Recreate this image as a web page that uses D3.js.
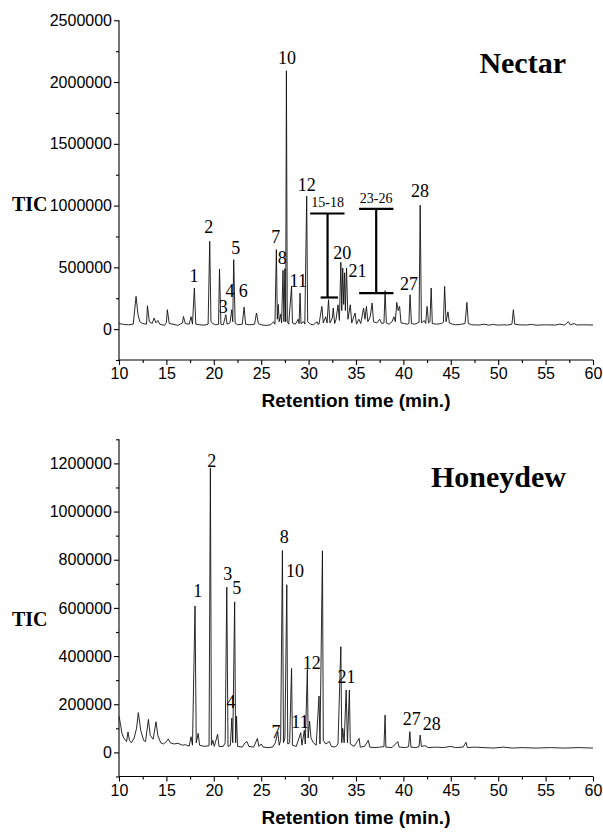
<!DOCTYPE html>
<html><head><meta charset="utf-8">
<script src="https://cdn.jsdelivr.net/npm/d3@7"></script>
<style>
html,body{margin:0;padding:0;background:#fff;}
svg{display:block;}
.tick text{font-family:Arial,"Liberation Sans",sans-serif;font-size:16px;fill:#000;}
</style></head>
<body><svg id="c" width="603" height="833"></svg>
<script>
// ---------- DATA ----------
const xTicks = [10,15,20,25,30,35,40,45,50,55,60];
const nectarYTicks = [0,500000,1000000,1500000,2000000,2500000];
const honeyYTicks = [0,200000,400000,600000,800000,1000000,1200000];

// Nectar trace: retention time (min) and TIC
const nectarRT = [10.0,10.5,11.0,11.5,11.8,12.0,12.2,12.5,12.9,13.0,13.2,13.5,13.7,13.9,14.1,14.3,14.8,15.0,15.1,15.3,15.7,16.2,16.7,16.8,17.0,17.4,17.6,17.75,17.95,18.1,18.5,19.0,19.4,19.57,19.7,19.9,20.2,20.5,20.6,20.75,21.0,21.27,21.4,21.7,21.9,22.0,22.1,22.25,22.5,23.0,23.2,23.35,23.8,24.3,24.5,24.7,25.0,25.5,26.0,26.3,26.45,26.6,26.7,26.8,26.9,27.05,27.15,27.3,27.4,27.5,27.58,27.66,27.75,27.9,28.2,28.3,28.6,28.9,29.0,29.1,29.2,29.5,29.6,29.8,29.9,30.2,30.5,30.9,31.0,31.1,31.4,31.55,31.8,31.95,32.1,32.25,32.5,32.6,32.75,32.9,33.1,33.25,33.4,33.5,33.6,33.7,33.8,33.88,34.0,34.15,34.4,34.55,34.9,35.05,35.3,35.5,35.8,35.95,36.1,36.25,36.5,36.7,36.85,37.2,37.5,37.7,37.95,38.07,38.2,38.5,38.8,39.0,39.15,39.3,39.45,39.6,39.75,40.1,40.4,40.58,40.7,40.85,41.2,41.5,41.65,41.77,41.9,42.2,42.35,42.5,42.65,42.8,42.93,43.05,43.5,44.0,44.22,44.35,44.5,44.7,44.85,45.2,45.5,46.0,46.5,46.7,46.85,47.2,48.0,48.5,49.0,49.5,50.0,50.5,51.0,51.45,51.6,51.75,52.2,53.0,53.5,54.0,55.0,56.0,56.5,57.0,57.4,57.6,58.0,58.3,59.0,60.0];
const nectarTIC = [45000,38000,35000,40000,265000,120000,60000,45000,40000,189000,60000,45000,89000,50000,70000,40000,30000,55000,157000,45000,40000,30000,50000,102000,45000,40000,100000,40000,333000,40000,35000,32000,40000,711000,60000,45000,35000,40000,487000,40000,35000,116000,40000,50000,157000,60000,562000,50000,35000,40000,178000,40000,35000,40000,130000,45000,35000,30000,35000,60000,40000,644000,80000,200000,60000,120000,50000,476000,60000,490000,60000,2091000,60000,40000,346000,50000,40000,80000,45000,292000,45000,60000,40000,1076000,60000,40000,35000,60000,40000,40000,184000,50000,100000,50000,238000,50000,90000,170000,45000,80000,197000,70000,541000,150000,495000,200000,456000,150000,495000,80000,197000,50000,130000,40000,80000,45000,170000,80000,184000,60000,100000,211000,60000,50000,80000,45000,50000,311000,50000,40000,60000,100000,60000,216000,150000,184000,50000,45000,40000,45000,278000,45000,40000,50000,55000,1003000,50000,70000,45000,184000,50000,60000,333000,45000,40000,45000,55000,346000,60000,140000,50000,40000,35000,38000,45000,216000,45000,35000,33000,40000,32000,38000,32000,35000,33000,40000,157000,40000,35000,33000,38000,32000,35000,33000,40000,33000,60000,35000,45000,33000,35000,33000];

// Honeydew trace
const honeyRT = [10.0,10.15,10.3,10.5,10.8,10.95,11.1,11.3,11.6,11.85,12.04,12.3,12.6,12.8,13.1,13.3,13.6,13.9,14.1,14.4,14.7,15.0,15.2,15.4,15.8,16.2,16.7,17.0,17.4,17.6,17.75,18.02,18.15,18.35,18.5,19.0,19.5,19.64,19.75,19.9,20.05,20.4,20.55,21.0,21.2,21.37,21.5,21.75,21.9,22.0,22.2,22.3,22.4,22.5,23.0,23.3,23.5,23.7,24.2,24.6,24.75,25.0,25.2,25.7,26.2,26.5,26.75,26.9,27.05,27.24,27.35,27.5,27.7,27.8,28.0,28.2,28.3,28.7,29.17,29.3,29.55,29.65,29.87,29.95,30.1,30.25,30.5,30.8,31.1,31.2,31.46,31.55,31.8,32.2,32.4,32.8,33.1,33.4,33.5,33.6,33.75,33.96,34.1,34.3,34.4,34.8,35.33,35.45,35.9,36.3,36.45,37.0,37.5,37.95,38.07,38.15,38.8,39.4,39.55,40.2,40.55,40.68,40.8,41.3,41.65,41.77,41.9,42.3,42.6,43.5,44.2,45.0,45.5,46.3,46.6,46.75,47.5,48.5,49.5,50.5,51.5,52.5,54.0,55.5,57.0,58.5,60.0];
const honeyTIC = [150000,120000,80000,60000,45000,85000,50000,40000,60000,100000,165000,90000,50000,45000,137000,70000,55000,127000,70000,40000,35000,45000,56000,40000,35000,38000,30000,32000,26000,65000,30000,608000,40000,79000,30000,25000,28000,1181000,30000,50000,25000,75000,25000,25000,40000,686000,25000,30000,142000,40000,625000,40000,150000,25000,22000,40000,45000,25000,22000,58000,25000,35000,22000,20000,22000,40000,86000,30000,50000,838000,40000,60000,696000,35000,40000,349000,30000,25000,82000,30000,92000,35000,345000,60000,130000,60000,40000,30000,234000,35000,837000,50000,35000,45000,25000,22000,35000,439000,40000,100000,40000,259000,40000,259000,35000,25000,58000,22000,25000,50000,22000,20000,22000,24000,155000,22000,20000,45000,22000,20000,24000,86000,22000,20000,24000,72000,25000,28000,20000,22000,20000,25000,20000,22000,42000,20000,22000,20000,18000,22000,18000,20000,18000,20000,18000,20000,18000];

// Peak labels: [text, RT, TIC]
const nectarLabels = [["1",17.91,381000],["2",19.46,778000],["3",21.0,130000],["4",21.7,262000],["5",22.31,608000],["6",23.11,260000],["7",26.53,697000],["8",27.23,527000],["10",27.72,2146000],["11",28.91,341000],["12",29.8,1118000],["20",33.55,567000],["21",35.17,422000],["27",40.58,317000],["28",41.74,1069000]];
const honeyLabels = [["1",18.3,645000],["2",19.78,1186000],["3",21.47,716000],["4",21.81,184000],["5",22.42,658000],["7",26.56,60000],["8",27.43,869000],["10",28.56,728000],["11",29.09,101000],["12",30.32,346000],["21",34.01,289000],["27",40.88,114000],["28",42.99,93000]];
// Grouped-peak brackets: [text, RT of stem, top left RT, top right RT, top TIC, bottom TIC, bottom left RT, bottom right RT]
const nectarBrackets = [["15-18",32.0,30.16,33.79,936000,256000,31.27,33.1],["23-26",37.13,35.33,38.95,974000,292000,35.33,38.95]];

// ---------- DRAW ----------
const svg = d3.select("#c");
const x = d3.scaleLinear().domain([10,60]).range([119,593]);
const serif = "'Liberation Serif','Times New Roman',serif";

function panel(opt){
  const y = d3.scaleLinear().domain(opt.yDomain).range(opt.yRange);
  const g = svg.append("g");
  // y axis
  const yg = g.append("g").attr("transform","translate(119,0)")
    .call(d3.axisLeft(y).tickValues(opt.yTicks).tickFormat(d3.format("d")).tickSize(5).tickPadding(2));
  g.append("g").attr("transform","translate(119,0)")
    .call(d3.axisLeft(y).tickValues(opt.yMinor).tickFormat("").tickSize(3))
    .select(".domain").remove();
  yg.select(".domain").attr("d",`M0,${opt.yRange[0]}V${opt.yRange[1]}`);
  // x axis
  const xg = g.append("g").attr("transform",`translate(0,${opt.yRange[0]})`)
    .call(d3.axisBottom(x).tickValues(xTicks).tickFormat(d3.format("d")).tickSize(5).tickPadding(3));
  xg.select(".domain").attr("d","M119,0H593");
  g.append("g").attr("transform",`translate(0,${opt.yRange[0]})`)
    .call(d3.axisBottom(x).tickValues(d3.range(12.5,60,5)).tickFormat("").tickSize(3))
    .select(".domain").remove();
  g.selectAll(".domain, .tick line").attr("stroke","#000").attr("stroke-width",1.1);
  // trace
  const pts = opt.rt.map((t,i)=>[t,opt.tic[i]]);
  g.append("path").datum(pts)
    .attr("d", d3.line().x(d=>x(d[0])).y(d=>y(d[1])))
    .attr("fill","none").attr("stroke","#111").attr("stroke-width",0.9).attr("stroke-linejoin","round");
  // peak labels
  g.selectAll("text.pk").data(opt.labels).join("text").attr("class","pk")
    .attr("x",d=>x(d[1])).attr("y",d=>y(d[2]))
    .attr("text-anchor","middle")
    .style("font-family",serif).style("font-size","18px")
    .text(d=>d[0]);
  // brackets
  (opt.brackets||[]).forEach(b=>{
    const bg = g.append("g").attr("stroke","#000").attr("stroke-width",2.2);
    bg.append("line").attr("x1",x(b[2])).attr("x2",x(b[3])).attr("y1",y(b[4])).attr("y2",y(b[4]));
    bg.append("line").attr("x1",x(b[1])).attr("x2",x(b[1])).attr("y1",y(b[4])).attr("y2",y(b[5]));
    bg.append("line").attr("x1",x(b[6])).attr("x2",x(b[7])).attr("y1",y(b[5])).attr("y2",y(b[5]));
    g.append("text").attr("x",x(b[1])).attr("y",y(b[4])-6).attr("text-anchor","middle")
      .style("font-family",serif).style("font-size","14px")
      .text(b[0]);
  });
  // TIC label
  g.append("text").attr("x",12).attr("y",opt.ticY)
    .style("font-family",serif).style("font-size","20px").style("font-weight","bold")
    .text("TIC");
  // title
  g.append("text").attr("x",566).attr("y",opt.titleY).attr("text-anchor","end")
    .style("font-family",serif).style("font-size","30px").style("font-weight","bold")
    .text(opt.title);
  // x axis label
  g.append("text").attr("x",356).attr("y",opt.yRange[0]+47).attr("text-anchor","middle")
    .style("font-family","Arial,'Liberation Sans',sans-serif").style("font-size","19px").style("font-weight","bold")
    .text("Retention time (min.)");
}

panel({yDomain:[-250000,2500000], yRange:[360,20.3], yTicks:nectarYTicks,
  yMinor:d3.range(-250000,2500001,250000).filter(v=>v%500000!==0),
  rt:nectarRT, tic:nectarTIC, labels:nectarLabels, brackets:nectarBrackets,
  ticY:211, title:"Nectar", titleY:73});
panel({yDomain:[-100000,1300000], yRange:[776.5,439.3], yTicks:honeyYTicks,
  yMinor:d3.range(-100000,1300001,100000).filter(v=>v%200000!==0),
  rt:honeyRT, tic:honeyTIC, labels:honeyLabels,
  ticY:626, title:"Honeydew", titleY:487});
</script></body></html>
